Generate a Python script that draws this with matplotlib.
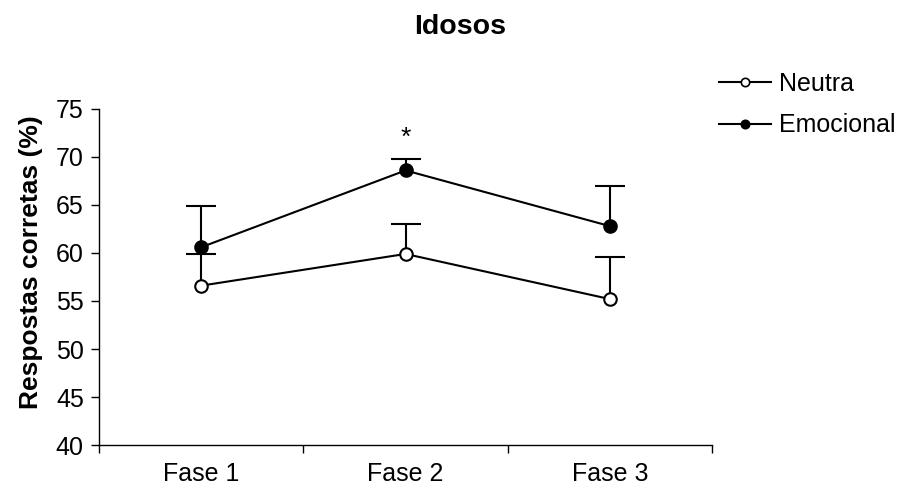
import matplotlib
matplotlib.use('Agg')
import matplotlib.pyplot as plt

plt.rcParams['font.family'] = ['Liberation Sans', 'DejaVu Sans']

fases = ['Fase 1', 'Fase 2', 'Fase 3']
neutra = [56.6, 59.9, 55.2]
neutra_err = [3.3, 3.1, 4.4]
emocional = [60.6, 68.6, 62.8]
emocional_err = [4.3, 1.2, 4.2]
y_ticks = [40, 45, 50, 55, 60, 65, 70, 75]

figure = plt.figure(figsize=(9.02, 4.92), dpi=100)
axis = figure.add_axes([0.1098, 0.0955, 0.6796, 0.683])

x = list(range(len(fases)))
no_err = [0] * len(fases)


def upper_errorbar(values, errors, face):
    # errorbar with only the upper whisker and cap
    _, caps, _ = axis.errorbar(x, values, yerr=[no_err, errors], color='black',
                               lw=1.5, marker='o', markersize=9,
                               markerfacecolor=face, markeredgecolor='black',
                               markeredgewidth=1.5, capsize=11, capthick=1.5,
                               elinewidth=1.5, zorder=3)
    caps[0].set_visible(False)


upper_errorbar(neutra, neutra_err, 'white')
upper_errorbar(emocional, emocional_err, 'black')

# legend entries drawn with smaller markers
axis.plot([], [], color='black', lw=1.5, marker='o', markersize=6,
          markerfacecolor='white', markeredgewidth=1.2, label='Neutra')
axis.plot([], [], color='black', lw=1.5, marker='o', markersize=6,
          markerfacecolor='black', markeredgewidth=1.2, label='Emocional')

axis.text(1, 72.0, '*', ha='center', va='center', fontsize=19)

axis.set_xlim(-0.5, 2.5)
axis.set_ylim(40, 75)
axis.set_yticks(y_ticks)
axis.set_xticks([-0.5, 0.5, 1.5, 2.5])
axis.set_xticklabels([])
axis.set_xticks(x, minor=True)
axis.set_xticklabels(fases, minor=True)
axis.tick_params(axis='x', which='minor', length=0, pad=12, labelsize=18)
axis.tick_params(axis='x', which='major', direction='out', length=6, width=1)
axis.tick_params(axis='y', direction='out', length=6, width=1, labelsize=18, pad=5)

for side in ['top', 'right']:
    axis.spines[side].set_visible(False)
for side in ['left', 'bottom']:
    axis.spines[side].set_linewidth(1)

axis.set_ylabel('Respostas corretas (%)', fontsize=19, fontweight='bold')
axis.yaxis.set_label_coords(-0.092, 0.545)
figure.text(0.51, 0.945, 'Idosos', ha='center', va='center', fontsize=20.5,
            fontweight='bold')

axis.legend(loc='upper left', bbox_to_anchor=(0.995, 1.14), frameon=False,
            fontsize=18, handlelength=2.1, handletextpad=0.3, labelspacing=0.7,
            borderaxespad=0)

figure.savefig('out.png', dpi=100)
